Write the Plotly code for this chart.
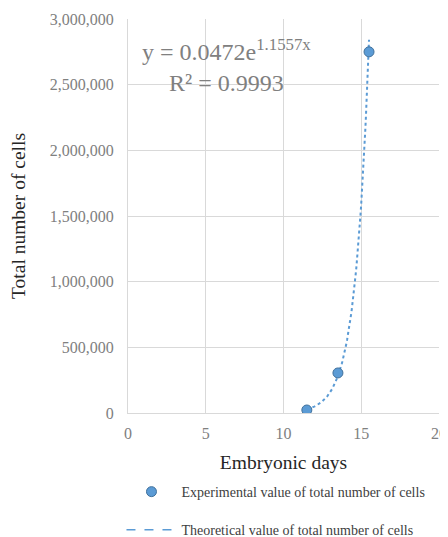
import numpy as np
import plotly.graph_objects as go

days = [11.5, 13.5, 15.5]
cells = [23000, 305000, 2750000]
fit_a = 0.0472
fit_b = 1.1557
r2 = 0.9993

xt = np.linspace(days[0], days[-1], 120)
yt = fit_a * np.exp(fit_b * xt)

blue = "#5B9BD5"
serif = "Liberation Serif"

fig = go.Figure()
fig.add_trace(go.Scatter(x=xt, y=yt, mode="lines", line=dict(color=blue, width=2, dash="dot"),
                         showlegend=False, hoverinfo="skip"))
fig.add_trace(go.Scatter(x=days, y=cells, mode="markers",
                         marker=dict(color=blue, size=10, line=dict(color="#41719C", width=1)),
                         name="Experimental value of total number of cells", legendgroup="a"))
fig.add_trace(go.Scatter(x=[None], y=[None], mode="lines", line=dict(color=blue, width=1.5, dash="dash"),
                         name="Theoretical value of total number of cells", legendgroup="b"))

fig.add_annotation(x=0.04, y=0.965, xref="paper", yref="paper", xanchor="left", yanchor="top",
                   text=f"y = {fit_a}e<sup>{fit_b}x</sup><br>R² = {r2}", showarrow=False, align="center",
                   font=dict(family=serif, size=24, color="#808080"))

fig.update_layout(
    width=440, height=529,
    margin=dict(l=120, r=9, t=11, b=124, autoexpand=False),
    paper_bgcolor="white", plot_bgcolor="white",
    font=dict(family=serif, color="#595959"),
    xaxis=dict(range=[0, 20], dtick=5, showgrid=True, gridcolor="#D9D9D9", gridwidth=1,
               zeroline=False, showline=True, linecolor="#D9D9D9", mirror=False,
               tickfont=dict(family=serif, size=16, color="#808080"), ticks="", ticklabelstandoff=6,
               title=dict(text="Embryonic days", font=dict(family=serif, size=19.5, color="#262626"), standoff=14)),
    yaxis=dict(range=[0, 3000000], dtick=500000, tickformat=",", showgrid=True, gridcolor="#D9D9D9",
               zeroline=False, showline=True, linecolor="#D9D9D9",
               tickfont=dict(family=serif, size=16, color="#808080"), ticks="", ticklabelstandoff=10,
               title=dict(text="Total number of cells", font=dict(family=serif, size=19.5, color="#262626"), standoff=20)),
    showlegend=True,
    legend=dict(x=-0.021, y=-0.16, xref="paper", yref="paper", xanchor="left", yanchor="top",
                font=dict(family=serif, size=14, color="#404040"), tracegroupgap=17,
                bgcolor="rgba(0,0,0,0)", itemwidth=50),
)

fig.write_html("out.html")
